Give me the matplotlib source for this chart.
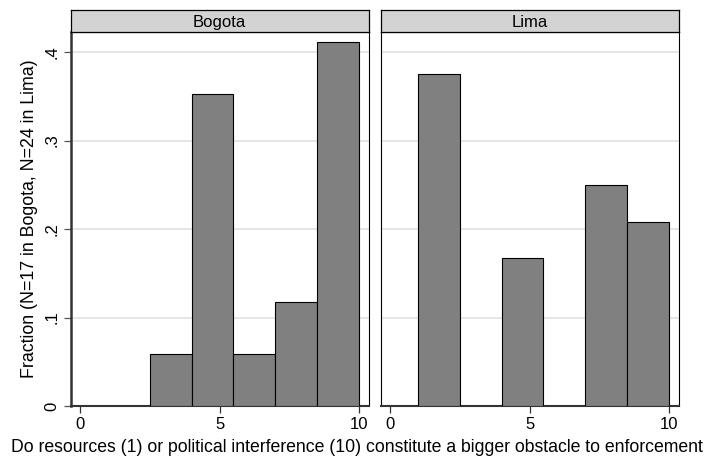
import numpy as np
import matplotlib.pyplot as plt

plt.rcParams['font.family'] = ['Liberation Sans', 'DejaVu Sans']

# histogram bins (width 1.5 starting at 1) and fractions per city
edges = [1, 2.5, 4, 5.5, 7, 8.5, 10]
bogota = [0, 0.0588, 0.3529, 0.0588, 0.1176, 0.4118]
lima = [0.375, 0, 0.1667, 0, 0.25, 0.2083]
cities = ['Bogota', 'Lima']
yticks = [0, 0.1, 0.2, 0.3, 0.4]
yticklabels = ['0', '.1', '.2', '.3', '.4']
xticks = [0, 5, 10]

fig = plt.figure(figsize=(7.07, 4.62), dpi=100)
fig.patch.set_facecolor('white')

lefts = [0.1, 0.5385]
w = 0.4215
bottom, top = 0.1212, 0.9307
strip_h = 0.0476

left = np.array(edges[:-1])
widths = np.diff(edges)

for i, (name, vals) in enumerate(zip(cities, [bogota, lima])):
    ax = fig.add_axes([lefts[i], bottom, w, top - bottom])
    vals = np.array(vals)
    keep = vals > 0  # empty bins are not drawn
    ax.bar(left[keep], vals[keep], width=widths[keep], align='edge', color='#808080',
           edgecolor='black', linewidth=0.8, zorder=3)
    ax.set_xlim(-0.35, 10.36)
    ax.set_ylim(0, 0.4226)
    ax.set_yticks(yticks)
    ax.grid(axis='y', color='#e4e4e4', linewidth=1.3, zorder=0)
    ax.set_xticks(xticks)
    ax.set_xticklabels([str(x) for x in xticks], fontsize=12)
    ax.tick_params(axis='x', length=5, width=0.9, color='#333333', pad=3)
    for s in ax.spines.values():
        s.set_linewidth(0.8)
        s.set_color('black')
    if i == 0:
        ax.set_yticklabels(yticklabels, fontsize=12, rotation=90, va='center')
        ax.tick_params(axis='y', length=5, width=0.9, color='#555555', pad=3)
        ax.spines['left'].set_linewidth(1.8)
        ax.spines['left'].set_color('#333333')
        ax.set_ylabel('Fraction (N=17 in Bogota, N=24 in Lima)', fontsize=12.8, labelpad=5)
    else:
        ax.tick_params(axis='y', length=0, labelleft=False)
    ax.spines['bottom'].set_linewidth(1.5)
    ax.spines['bottom'].set_color('#333333')

    # strip title above each panel
    sax = fig.add_axes([lefts[i], top, w, strip_h])
    sax.set_facecolor('#d3d3d3')
    sax.set_xticks([])
    sax.set_yticks([])
    for s in sax.spines.values():
        s.set_linewidth(0.9)
        s.set_color('black')
    sax.text(0.5, 0.45, name, ha='center', va='center', fontsize=12,
             transform=sax.transAxes)

fig.text(0.505, 0.032, 'Do resources (1) or political interference (10) constitute a bigger obstacle to enforcement',
         ha='center', va='center', fontsize=12.7)

fig.savefig('out.png', dpi=100)
